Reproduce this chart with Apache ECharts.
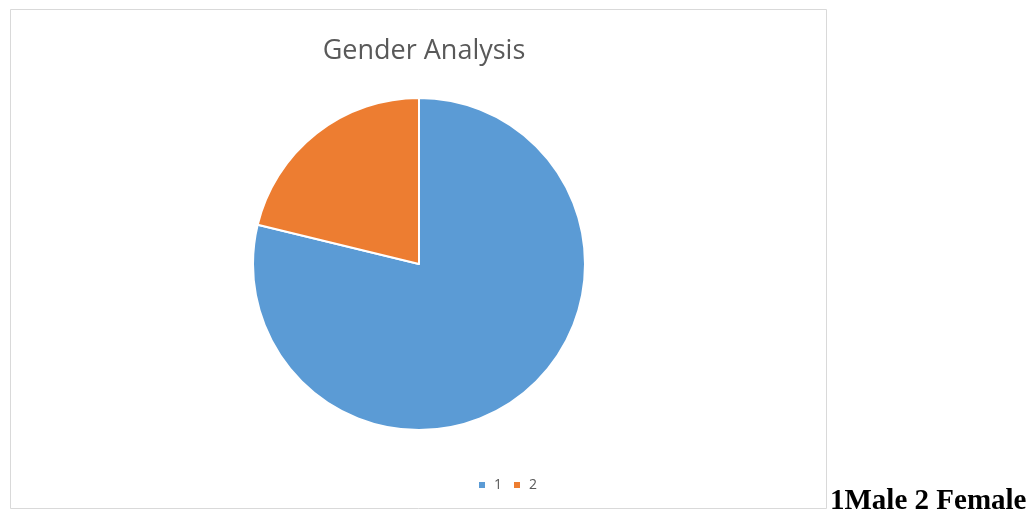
<!DOCTYPE html>
<html>
<head>
<meta charset="utf-8">
<script src="https://cdn.jsdelivr.net/npm/echarts@6/dist/echarts.min.js"></script>
<style>
  html, body { margin: 0; padding: 0; background: #fff; }
  #chart { width: 1031px; height: 514px; }
</style>
</head>
<body>
<div id="chart"></div>
<script>
// Gender breakdown: category codes and their shares
const categories = ['1', '2'];
const shares = [78.8, 21.2];
const sliceColors = ['#5B9BD5', '#ED7D31'];
const titleText = 'Gender Analysis';
const noteText = '1Male 2 Female';

const chart = echarts.init(document.getElementById('chart'));

chart.setOption({
  animation: false,
  backgroundColor: '#ffffff',
  title: {
    text: titleText,
    left: 419,
    top: 33,
    textAlign: 'center',
    textStyle: {
      fontFamily: 'Open Sans',
      fontWeight: 'normal',
      fontSize: 27,
      color: '#595959'
    }
  },
  legend: {
    data: categories,
    left: 477,
    top: 478,
    padding: 0,
    itemWidth: 8,
    itemHeight: 8,
    itemGap: 10,
    icon: 'rect',
    textStyle: {
      fontFamily: 'Open Sans',
      fontSize: 14,
      color: '#595959',
      padding: [0, 0, 0, 3]
    }
  },
  graphic: [
    {
      type: 'rect',
      shape: { x: 10.5, y: 9.5, width: 816, height: 499 },
      style: { fill: 'none', stroke: '#d9d9d9', lineWidth: 1 },
      z: 0
    },
    {
      type: 'text',
      x: 830,
      y: 502,
      style: {
        text: noteText,
        font: 'bold 29px "Liberation Serif"',
        fill: '#000000',
        align: 'left',
        verticalAlign: 'middle'
      }
    }
  ],
  series: [
    {
      type: 'pie',
      center: [419, 264],
      radius: 166,
      startAngle: 90,
      clockwise: true,
      label: { show: false },
      labelLine: { show: false },
      itemStyle: { borderColor: '#ffffff', borderWidth: 2 },
      emphasis: { disabled: true },
      data: categories.map((c, i) => ({
        name: c,
        value: shares[i],
        itemStyle: { color: sliceColors[i] }
      }))
    }
  ]
});
</script>
</body>
</html>
